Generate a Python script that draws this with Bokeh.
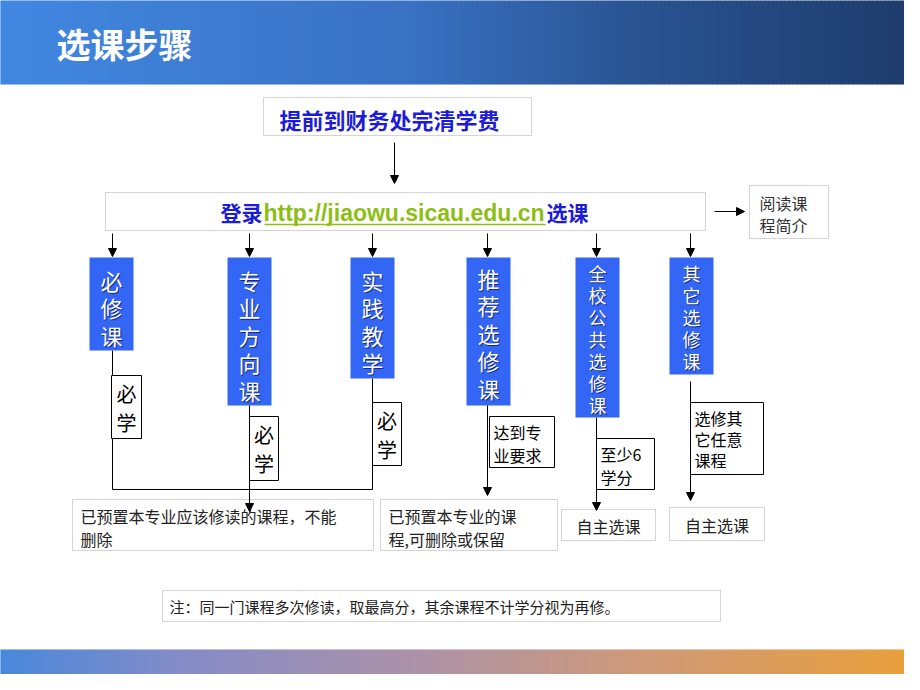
import numpy as np
from bokeh.plotting import figure
from bokeh.models import Range1d, ColumnDataSource, Arrow, NormalHead
from bokeh.core.properties import value
from bokeh.embed import file_html
from bokeh.resources import INLINE

# ---------------- data ----------------
title = "选课步骤"
step1 = "提前到财务处完清学费"
login_parts = ["登录", "http://jiaowu.sicau.edu.cn", "选课"]
side_note = ["阅读课", "程简介"]
course_types = ["必修课", "专业方向课", "实践教学", "推荐选修课", "全校公共选修课", "其它选修课"]
course_x = [119, 257, 380, 496, 605, 699]
course_bottom = [358, 413, 386, 413, 425, 382]
course_font = [22, 22, 22, 22, 18, 18]
course_step = [27.5, 27.5, 27.5, 27.5, 22, 22]
course_first = [287, 287, 287, 285, 280, 280]
labels = [["必", "学"], ["必", "学"], ["必", "学"], ["达到专", "业要求"], ["至少6", "学分"], ["选修其", "它任意", "课程"]]
label_box = [(119, 149, 383, 446), (257, 286, 424, 488), (380, 409, 410, 473),
             (497, 562, 424, 475), (604, 662, 446, 497), (698, 771, 410, 482)]
results = [["已预置本专业应该修读的课程，不能", "删除"], ["已预置本专业的课", "程,可删除或保留"], ["自主选课"], ["自主选课"]]
result_box = [(80, 381, 507, 558), (388, 565, 507, 558), (569, 663, 517, 548), (677, 772, 515, 548)]
note = "注：同一门课程多次修读，取最高分，其余课程不计学分视为再修。"

CJK = "Noto Sans CJK SC"
BLUE_TXT = "#1c1cd8"
BOX_BLUE = "#3366F5"

p = figure(width=904, height=674, x_range=Range1d(8, 912), y_range=Range1d(682, 8),
           output_backend="svg", toolbar_location=None, min_border=0,
           x_axis_location=None, y_axis_location=None)
p.grid.visible = False
p.outline_line_color = None
p.background_fill_color = "white"
p.border_fill_color = "white"


def gradient(stops, n):
    t = np.linspace(0, 1, n)
    pos = [s[0] for s in stops]
    cols = []
    for k in range(3):
        ch = np.interp(t, pos, [s[1][k] for s in stops])
        cols.append(ch)
    return ["#%02x%02x%02x" % (int(r), int(g), int(b)) for r, g, b in zip(*cols)]


N = 230
edges = np.linspace(0, 920, N + 1)
hdr = gradient([(0, (66, 136, 226)), (0.45, (58, 114, 196)), (0.7, (42, 84, 146)), (1, (30, 60, 108))], N)
p.quad(left=edges[:-1], right=edges[1:] + 0.6, top=0, bottom=92, fill_color=hdr, line_color=None)
ftr = gradient([(0, (72, 136, 222)), (0.2, (132, 140, 200)), (0.45, (172, 146, 170)),
                (0.7, (206, 154, 122)), (1, (234, 160, 60))], N)
p.quad(left=edges[:-1], right=edges[1:] + 0.6, top=657, bottom=700, fill_color=ftr, line_color=None)

p.text(x=[64], y=[51], text=[title], text_color="white", text_font=value(CJK),
       text_font_style="bold", text_font_size="34px", text_baseline="middle")

DOT = dict(fill_color=None, line_color="#a8a8a8", line_dash="1 1", line_width=1)

# step 1
p.quad(left=[271], right=[539], top=[105], bottom=[143], **DOT)
p.text(x=[397], y=[126], text=[step1], text_color=BLUE_TXT, text_font=value(CJK),
       text_font_style="bold", text_font_size="22px", text_align="center", text_baseline="middle")

# login box
p.quad(left=[113], right=[713], top=[200], bottom=[238], **DOT)
p.text(x=[228], y=[219], text=[login_parts[0]], text_color=BLUE_TXT, text_font=value(CJK),
       text_font_style="bold", text_font_size="21px", text_baseline="middle")
p.text(x=[271], y=[220], text=[login_parts[1]], text_color="#8dbe14", text_font=value("Liberation Sans"),
       text_font_style="bold", text_font_size="23px", text_baseline="middle")
p.segment(x0=[272], x1=[553], y0=[232], y1=[232], line_color="#8dbe14", line_width=1.5)
p.text(x=[554], y=[219], text=[login_parts[2]], text_color=BLUE_TXT, text_font=value(CJK),
       text_font_style="bold", text_font_size="21px", text_baseline="middle")

# side note
p.quad(left=[757], right=[836], top=[193], bottom=[246], **DOT)
p.text(x=[767, 767], y=[210, 232], text=side_note, text_color="#333333", text_font=value(CJK),
       text_font_size="16px", text_baseline="middle")

# lines (no heads)
p.segment(x0=[120, 380, 120], x1=[120, 380, 380], y0=[358, 386, 497], y1=[497, 497, 497],
          line_color="black", line_width=1)

# arrows
ax0 = [402, 722] + [120, 257, 380, 495, 604, 698] + [257, 495, 604, 698]
ax1 = [402, 752] + [120, 257, 380, 495, 604, 698] + [257, 495, 604, 698]
ay0 = [150, 219] + [241] * 6 + [413, 413, 425, 389]
ay1 = [191, 219] + [264] * 6 + [519, 503, 518, 508]
asrc = ColumnDataSource(dict(x0=ax0, x1=ax1, y0=ay0, y1=ay1))
p.add_layout(Arrow(end=NormalHead(size=8, fill_color="black", line_color="black"),
                   x_start="x0", y_start="y0", x_end="x1", y_end="y1",
                   line_color="black", line_width=1, source=asrc))

# course boxes
for cx, cb, name, fs, st, f0 in zip(course_x, course_bottom, course_types, course_font, course_step, course_first):
    p.quad(left=[cx - 22], right=[cx + 22], top=[265], bottom=[cb], fill_color=BOX_BLUE, line_color=None)
    ys = [f0 + i * st for i in range(len(name))]
    p.text(x=[cx + 1] * len(name), y=[y + 1 for y in ys], text=list(name), text_color="#1a2a70",
           text_font=value(CJK), text_font_size=f"{fs}px", text_align="center", text_baseline="middle")
    p.text(x=[cx] * len(name), y=ys, text=list(name), text_color="white",
           text_font=value(CJK), text_font_size=f"{fs}px", text_align="center", text_baseline="middle")

# label boxes
for (l, r, t, b), lines in zip(label_box, labels):
    p.quad(left=[l], right=[r], top=[t], bottom=[b], fill_color="white", line_color="black", line_width=1)
    if len(lines[0]) == 1:
        ys = [t + 18 + 29 * i for i in range(len(lines))]
        p.text(x=[(l + r) / 2] * len(lines), y=ys, text=lines, text_color="black", text_font=value(CJK),
               text_font_size="20px", text_align="center", text_baseline="middle")
    else:
        step = 23 if len(lines) == 2 else 21
        ys = [t + 15 + step * i for i in range(len(lines))]
        p.text(x=[l + 4] * len(lines), y=ys, text=lines, text_color="black", text_font=value(CJK),
               text_font_size="16px", text_baseline="middle")

# result boxes
for (l, r, t, b), lines in zip(result_box, results):
    p.quad(left=[l], right=[r], top=[t], bottom=[b], **DOT)
    if len(lines) == 1:
        p.text(x=[(l + r) / 2], y=[(t + b) / 2 + 1], text=lines, text_color="#222222", text_font=value(CJK),
               text_font_size="16px", text_align="center", text_baseline="middle")
    else:
        p.text(x=[l + 8, l + 8], y=[t + 16, t + 39], text=lines, text_color="#222222", text_font=value(CJK),
               text_font_size="16px", text_baseline="middle")

# note
p.quad(left=[170], right=[728], top=[598], bottom=[629], **DOT)
p.text(x=[177], y=[614], text=[note], text_color="#222222", text_font=value(CJK),
       text_font_size="15px", text_baseline="middle")

open("out.html", "w").write(file_html(p, INLINE))
